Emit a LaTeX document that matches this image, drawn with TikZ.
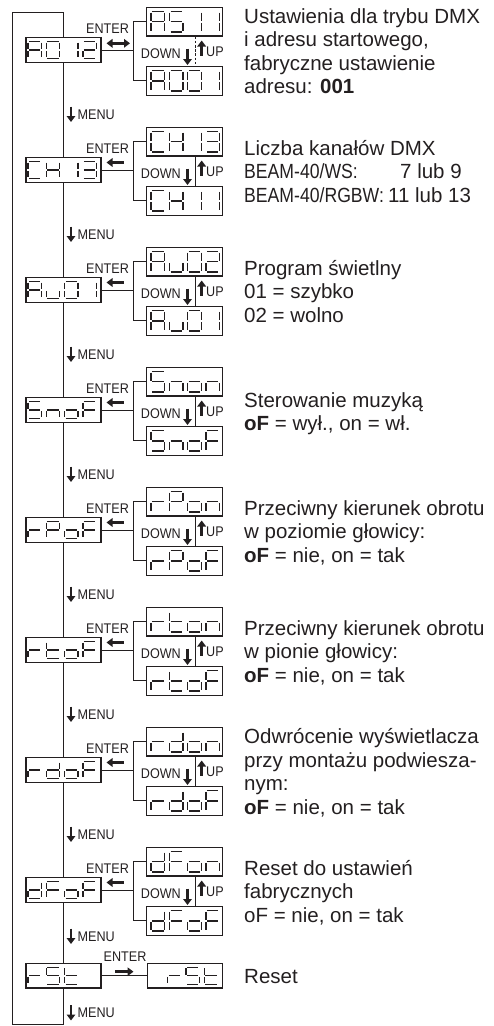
\documentclass[tikz,border=0pt]{standalone}
\usepackage{fontspec}
\setmainfont{Liberation Sans}
\newfontfamily\narrowfont[FakeStretch=0.9]{Liberation Sans}
\newfontfamily\beamfont[FakeStretch=0.86]{Liberation Sans}
\usetikzlibrary{arrows.meta,calc}

\definecolor{ink}{RGB}{35,31,32}

% ---------- seven-segment glyphs ----------
\def\segw{13.5}
\def\pitch{18.3}
\def\gap{1.1}
\newcommand\setmainglyph{\def\segh{17}\def\glyphx{2.5}}
\newcommand\setsubglyph{\def\segh{20.5}\def\glyphx{5}}
\setmainglyph

\expandafter\def\csname seg-a\endcsname{\draw[segline] (\gap,0) -- (\segw-\gap,0);}
\expandafter\def\csname seg-b\endcsname{\draw[segline] (\segw,\gap) -- (\segw,\segh/2-\gap);}
\expandafter\def\csname seg-c\endcsname{\draw[segline] (\segw,\segh/2+\gap) -- (\segw,\segh-\gap);}
\expandafter\def\csname seg-d\endcsname{\draw[segline] (\gap,\segh) -- (\segw-\gap,\segh);}
\expandafter\def\csname seg-e\endcsname{\draw[segline] (0,\segh/2+\gap) -- (0,\segh-\gap);}
\expandafter\def\csname seg-f\endcsname{\draw[segline] (0,\gap) -- (0,\segh/2-\gap);}
\expandafter\def\csname seg-g\endcsname{\draw[segline] (\gap,\segh/2) -- (\segw-\gap,\segh/2);}
\expandafter\def\csname seg-z\endcsname{}

\newcommand\defglyph[2]{\expandafter\def\csname gl-#1\endcsname{#2}}
\defglyph{A}{a,b,c,e,f,g}
\defglyph{0}{a,b,c,d,e,f}
\defglyph{1}{b,c}
\defglyph{2}{a,b,d,e,g}
\defglyph{3}{a,b,c,d,g}
\defglyph{S}{a,c,d,f,g}
\defglyph{C}{a,d,e,f}
\defglyph{H}{b,c,e,f,g}
\defglyph{u}{c,d,e}
\defglyph{n}{c,e,g}
\defglyph{o}{c,d,e,g}
\defglyph{F}{a,e,f,g}
\defglyph{r}{e,g}
\defglyph{P}{a,b,e,f,g}
\defglyph{t}{d,e,f,g}
\defglyph{d}{b,c,d,e,g}
\defglyph{x}{z}

\tikzset{
  conn/.style={draw=ink, line width=1pt},
  mainbox/.style={draw=ink, line width=1.2pt, minimum width=75pt, minimum height=24.6pt, inner sep=0pt},
  subbox/.style={mainbox, minimum width=75.6pt, minimum height=28.7pt},
  segline/.style={draw=ink, line width=1.4pt},
  lbl/.style={inner sep=0pt, text=ink, font=\narrowfont\fontsize{14}{15}\selectfont},
  fat/.style={draw=ink, line width=2.8pt, -{Triangle[length=6pt,width=8.5pt]}},
  fatboth/.style={draw=ink, line width=2.8pt, {Triangle[length=6pt,width=8.5pt]}-{Triangle[length=6pt,width=8.5pt]}},
  desc/.style={inner sep=0pt, anchor=base west, text=ink, font=\fontsize{20.5}{23.5}\selectfont},
}

% display box with seven-segment characters
\newcommand\display[5]{%
  \node[#2] (#1) at (#3,#4) {};
  \foreach \dchar [count=\k from 0] in {#5} {%
    \edef\seglist{\csname gl-\dchar\endcsname}%
    \begin{scope}[shift={($(#1.west)+({\glyphx+\k*\pitch},{-\segh/2})$)}]
      \foreach \s in \seglist {\csname seg-\s\endcsname}
    \end{scope}
  }%
}

% one menu item: main display, two option displays, bracket and labels
\newcommand\menublock[5]{%
  \setmainglyph
  \display{m#1}{mainbox}{63.5}{#2}{#3}
  \setsubglyph
  \display{u#1}{subbox}{184.5}{#2-28.3}{#4}
  \display{l#1}{subbox}{184.5}{#2+30.9}{#5}
  \coordinate (b#1) at (133.3,#2);
  \draw[conn] (m#1.east) -- (b#1);
  \draw[conn] (u#1.west) -- (u#1.west -| b#1) -- (l#1.west -| b#1) -- (l#1.west);
  \node[lbl] (enter#1) at (107.5,#2-21.7) {ENTER};
  \node[lbl,anchor=east] (down#1) at (181,#2+4) {DOWN};
  \draw[fat] (187.5,#2-1.5) -- (187.5,#2+15);
  \draw[fat] (201.7,#2+5.5) -- (201.7,#2-9.5);
  \node[lbl,anchor=west] (up#1) at (206,#2+1.5) {UP};
}

% MENU step arrow below a main display
\newcommand\menustep[3]{% name, arrow top y, arrow bottom y
  \draw[fat] (71,#2) -- (71,#3);
  \node[lbl,anchor=west] (#1) at (77.5,{(#2+#3)/2}) {MENU};
}

% description text, one node per line
\newcommand\desc[3]{%
  \foreach \ln [count=\k from 0] in {#3} {%
    \node[desc] (#1-\k) at (244,{#2+\k*23.6}) {\ln};
  }%
}

\begin{document}
\begin{tikzpicture}[x=1pt,y=-1pt]
\useasboundingbox (0,0) rectangle (494,1026);

\menublock{1}{50}{A,0,1,2}{A,S,1,1}{A,0,0,1}
\menublock{2}{170}{C,H,1,3}{C,H,1,3}{C,H,1,1}
\menublock{3}{290}{A,u,0,1}{A,u,0,2}{A,u,0,1}
\menublock{4}{410}{S,n,o,F}{S,n,o,n}{S,n,o,F}
\menublock{5}{530}{r,P,o,F}{r,P,o,n}{r,P,o,F}
\menublock{6}{650}{r,t,o,F}{r,t,o,n}{r,t,o,F}
\menublock{7}{770}{r,d,o,F}{r,d,o,n}{r,d,o,F}
\menublock{8}{890}{d,F,o,F}{d,F,o,n}{d,F,o,F}

% first item: two-way ENTER arrow and dashed link between options
\draw[fatboth] (106.5,43.3) -- (130,43.3);
\draw[conn, dash pattern=on 2.6pt off 1.6pt] ([xshift=11pt]u1.south) -- ([xshift=11pt]l1.north);

% other items: ENTER arrow pointing back and solid link
\foreach \i/\y in {2/170,3/290,4/410,5/530,6/650,7/770,8/890} {
  \draw[fat] (123.5,\y-7.5) -- (106.5,\y-7.5);
  \draw[conn] ([xshift=10.5pt]u\i.south) -- ([xshift=10.5pt]l\i.north);
}

% reset item
\setmainglyph
\display{m9}{mainbox}{63.5}{975.7}{r,S,t,x}
\display{s9}{mainbox}{185}{975.7}{x,r,S,t}
\draw[conn] (m9.east) -- (s9.west);
\node[lbl] (enter9) at (125,956.7) {ENTER};
\draw[fat] (115,971.7) -- (133.5,971.7);

% spine through the main displays
\foreach \a/\b in {1/2,2/3,3/4,4/5,5/6,6/7,7/8,8/9} {
  \draw[conn] (m\a.south) -- (m\b.north);
}

% return loop
\coordinate (tl) at (12.3,12.7);
\coordinate (tr) at (63.5,12.7);
\coordinate (bl) at (12.3,1024);
\coordinate (br) at (63.5,1024);
\draw[conn] (m1.north) -- (tr) -- (tl) -- (bl) -- (br) -- (m9.south);

% MENU steps
\menustep{menu1}{106.5}{122}
\menustep{menu2}{226.5}{242}
\menustep{menu3}{346.5}{362}
\menustep{menu4}{466.5}{482}
\menustep{menu5}{586.5}{602}
\menustep{menu6}{706.5}{722}
\menustep{menu7}{826.5}{842}
\menustep{menu8}{928.5}{944}
\menustep{menu9}{1005}{1020.5}

% descriptions
\desc{t1}{23}{Ustawienia dla trybu DMX, i adresu startowego{,}, fabryczne ustawienie, adresu: \textbf{001}}
\node[desc] (t2-0) at (244,155) {Liczba kanałów DMX};
\node[desc] (t2-1) at (244,178.6) {\beamfont BEAM-40/WS:};
\node[desc] (t2-1v) at (400,178.6) {7 lub 9};
\node[desc] (t2-2) at (244,202.2) {\beamfont BEAM-40/RGBW:};
\node[desc] (t2-2v) at (388,202.2) {11 lub 13};
\desc{t3}{275}{Program świetlny, 01 = szybko, 02 = wolno}
\desc{t4}{407}{Sterowanie muzyką, {\textbf{oF} = wył., on = wł.}}
\desc{t5}{515}{Przeciwny kierunek obrotu, w poziomie głowicy:, {\textbf{oF} = nie, on = tak}}
\desc{t6}{635}{Przeciwny kierunek obrotu, w pionie głowicy:, {\textbf{oF} = nie, on = tak}}
\desc{t7}{743.5}{Odwrócenie wyświetlacza, przy montażu podwiesza-, nym:, {\textbf{oF} = nie, on = tak}}
\desc{t8}{875}{Reset do ustawień, fabrycznych, {oF = nie, on = tak}}
\node[desc] (t9) at (244,983) {Reset};
\end{tikzpicture}
\end{document}
